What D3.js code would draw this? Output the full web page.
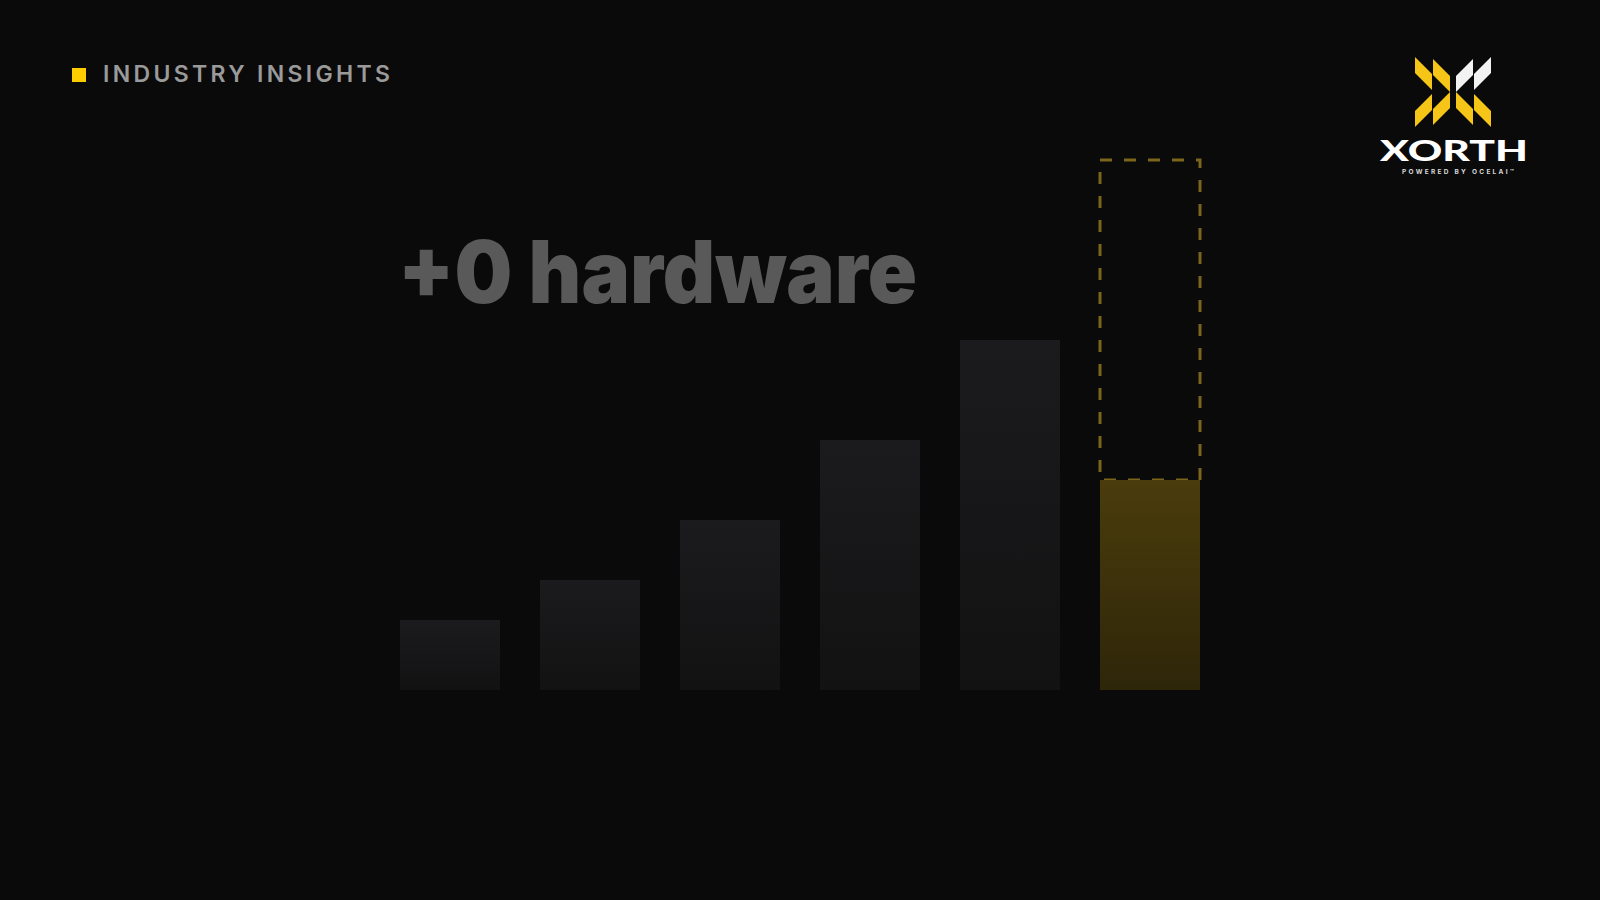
<!DOCTYPE html>
<html>
<head>
<meta charset="utf-8">
<script src="https://cdn.jsdelivr.net/npm/d3@7"></script>
<style>
  html, body { margin: 0; padding: 0; background: #0a0a0a; }
  svg { display: block; }
</style>
</head>
<body>
<svg id="chart" width="1600" height="900"></svg>
<script>
// ---- data ----
const categories = ["Y1", "Y2", "Y3", "Y4", "Y5", "Y6"];
const barValues = [7, 11, 17, 25, 35];       // grey history bars
const currentValue = 21;                     // highlighted (gold) bar
const targetValue = 53;                      // dashed target outline
const headline = "+0 hardware";
const kicker = "INDUSTRY INSIGHTS";

const svg = d3.select("#chart");
svg.append("rect").attr("width", 1600).attr("height", 900).attr("fill", "#0a0a0a");

const defs = svg.append("defs");
const gGrey = defs.append("linearGradient").attr("id", "gGrey").attr("x1", 0).attr("y1", 0).attr("x2", 0).attr("y2", 1);
gGrey.append("stop").attr("offset", "0%").attr("stop-color", "#1b1b1d");
gGrey.append("stop").attr("offset", "100%").attr("stop-color", "#121213");
const gGold = defs.append("linearGradient").attr("id", "gGold").attr("x1", 0).attr("y1", 0).attr("x2", 0).attr("y2", 1);
gGold.append("stop").attr("offset", "0%").attr("stop-color", "#4a3c0c");
gGold.append("stop").attr("offset", "100%").attr("stop-color", "#2e2609");

// ---- scales ----
const x = d3.scaleBand().domain(categories).range([400, 1200]).paddingInner(40 / 140).paddingOuter(0);
const y = d3.scaleLinear().domain([0, targetValue]).range([690, 160]);

// ---- grey bars ----
svg.append("g").selectAll("rect").data(barValues).join("rect")
  .attr("x", (d, i) => x(categories[i]))
  .attr("y", d => y(d))
  .attr("width", x.bandwidth())
  .attr("height", d => y(0) - y(d))
  .attr("fill", "url(#gGrey)");

// ---- target dashed outline ----
const last = categories[categories.length - 1];
svg.append("rect")
  .attr("x", x(last))
  .attr("y", y(targetValue))
  .attr("width", x.bandwidth())
  .attr("height", y(currentValue) - y(targetValue))
  .attr("fill", "none")
  .attr("stroke", "#7a651a")
  .attr("stroke-width", 3)
  .attr("stroke-dasharray", "12 12");

// ---- current gold bar ----
svg.append("rect")
  .attr("x", x(last))
  .attr("y", y(currentValue))
  .attr("width", x.bandwidth())
  .attr("height", y(0) - y(currentValue))
  .attr("fill", "url(#gGold)");

// ---- headline ----
svg.append("text")
  .attr("x", 398).attr("y", 303)
  .attr("font-family", "Inter, Lato, sans-serif")
  .attr("font-weight", 900)
  .attr("font-size", 86)
  .attr("fill", "#595959")
  .attr("textLength", 519)
  .attr("lengthAdjust", "spacingAndGlyphs")
  .text(headline);

// ---- kicker ----
svg.append("rect").attr("x", 72).attr("y", 68).attr("width", 14).attr("height", 14).attr("fill", "#ffcc00");
svg.append("text")
  .attr("x", 103).attr("y", 82)
  .attr("font-family", "Inter, Lato, sans-serif")
  .attr("font-weight", 600)
  .attr("font-size", 23)
  .attr("fill", "#9a9a9a")
  .attr("textLength", 287)
  .attr("lengthAdjust", "spacing")
  .text(kicker);

// ---- logo ----
const logo = svg.append("g");
const Y = "#f5c518", W = "#f2f2f2";
// parallelogram: left x, width, top-left y, vertical edge height, slope sign
function para(x0, w, y0, h, s) {
  return [[x0, y0], [x0 + w, y0 + s * w], [x0 + w, y0 + s * w + h], [x0, y0 + h]];
}
const pieces = [
  {c: Y, p: para(1415, 17, 57, 16, 1)},
  {c: Y, p: para(1433, 17, 59, 16, 1)},
  {c: W, p: para(1456, 17, 76, 16, -1)},
  {c: W, p: para(1474, 17, 74, 16, -1)},
  {c: Y, p: para(1415, 17, 111, 16, -1)},
  {c: Y, p: para(1433, 17, 109, 16, -1)},
  {c: Y, p: para(1456, 17, 92, 16, 1)},
  {c: Y, p: para(1474, 17, 94, 16, 1)}
];
logo.selectAll("polygon").data(pieces).join("polygon")
  .attr("points", d => d.p.map(q => q.join(",")).join(" "))
  .attr("fill", d => d.c);
logo.append("text")
  .attr("x", 1380).attr("y", 161)
  .attr("font-family", "Lato, 'DejaVu Sans', sans-serif")
  .attr("font-weight", 900)
  .attr("font-size", 29)
  .attr("fill", "#ffffff")
  .attr("textLength", 148)
  .attr("lengthAdjust", "spacingAndGlyphs")
  .text("XORTH");
logo.append("text")
  .attr("x", 1402).attr("y", 173.5)
  .attr("font-family", "Inter, sans-serif")
  .attr("font-weight", 700)
  .attr("font-size", 6.5)
  .attr("fill", "#d8d8d8")
  .attr("textLength", 112)
  .attr("lengthAdjust", "spacing")
  .text("POWERED BY OCELAI™");
</script>
</body>
</html>
